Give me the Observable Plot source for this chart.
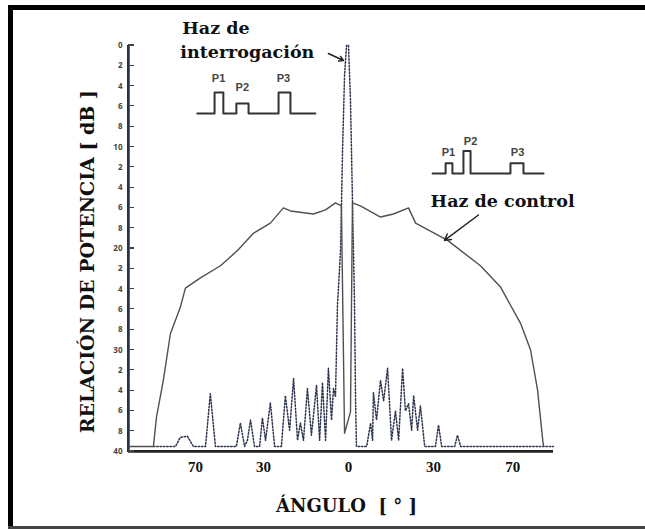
<!DOCTYPE html>
<html><head><meta charset="utf-8">
<script src="https://cdn.jsdelivr.net/npm/d3@7"></script>
<script src="https://cdn.jsdelivr.net/npm/@observablehq/plot@0.6"></script>
<style>
html,body{margin:0;background:#fff;overflow:hidden;}
#wrap{position:relative;width:645px;height:529px;overflow:hidden;background:#fff;}
#wrap svg{position:absolute;left:0;top:0;}
.bd{position:absolute;pointer-events:none;}
</style></head><body><div id="wrap"></div>
<script>
// Haz de control (solid) — angle [°], power ratio [dB]
const controlAngle = [-77.7, -68.9, -67.8, -65.4, -62.9, -59.4, -57.6, -52.3, -45.2, -39.2, -33.6, -27.6, -23.0, -20.5, -12.4, -8.1, -4.6, -2.5, -1.4, 0.7, 1.4, 4.2, 11.3, 15.9, 21.2, 23.7, 35.0, 46.6, 53.7, 60.8, 64.3, 66.8, 68.6, 68.9];
const controlDb    = [39.5, 39.5, 36.6, 33.0, 28.4, 25.8, 23.9, 22.9, 21.7, 20.2, 18.5, 17.5, 16.0, 16.3, 16.6, 16.2, 15.5, 15.8, 38.2, 36.1, 15.5, 15.8, 16.9, 16.6, 16.0, 17.5, 19.2, 21.7, 23.8, 27.4, 30.0, 34.0, 38.9, 39.5];

// Haz de interrogación (dotted)
const interrAngle = [-68.9, -61.1, -59.4, -56.9, -54.8, -50.5, -48.8, -47.0, -39.6, -38.2, -36.7, -35.7, -34.6, -33.2, -31.4, -30.4, -29.3, -27.6, -26.1, -23.7, -22.3, -20.8, -19.4, -18.0, -17.0, -15.9, -14.5, -13.1, -11.3, -10.2, -9.2, -8.1, -7.1, -6.0, -5.3, -4.6, -3.9, -2.8, -2.1, -1.4, -0.7, 0, 0.7, 1.4, 2.1, 2.5, 2.8, 6.4, 7.8, 8.5, 8.8, 9.9, 11.3, 12.4, 13.8, 15.2, 16.6, 17.7, 19.1, 20.1, 21.2, 22.3, 23.0, 24.4, 25.4, 26.9, 30.7, 31.8, 32.9, 37.5, 38.5, 39.6, 72.4];
const interrDb    = [39.5, 39.5, 38.6, 38.5, 39.5, 39.5, 34.3, 39.5, 39.5, 37.2, 39.5, 38.9, 36.9, 39.5, 39.5, 36.7, 38.9, 35.2, 39.5, 39.5, 34.5, 37.9, 32.8, 38.9, 37.2, 38.9, 33.8, 38.4, 33.5, 38.9, 33.2, 38.9, 31.8, 36.9, 33.8, 34.6, 25.6, 20.2, 10.3, 3.0, 0, 0, 5.4, 15.3, 25.1, 35.0, 39.5, 39.5, 37.2, 38.9, 34.2, 36.9, 33.0, 35.0, 31.8, 38.9, 36.0, 38.9, 31.8, 36.0, 35.3, 37.9, 34.5, 37.9, 35.5, 39.5, 39.5, 37.4, 39.5, 39.5, 38.4, 39.5, 39.5];

// Pulse sketches (P1 P2 P3)
const pulseIntAngle = [-53.4, -47.3, -47.3, -44.2, -44.2, -39.6, -39.6, -35.3, -35.3, -24.7, -24.7, -20.5, -20.5, -11.7];
const pulseIntDb    = [6.7, 6.7, 4.63, 4.63, 6.7, 6.7, 5.71, 5.71, 6.7, 6.7, 4.63, 4.63, 6.7, 6.7];
const pulseCtlAngle = [29.7, 34.3, 34.3, 36.7, 36.7, 40.6, 40.6, 43.1, 43.1, 57.2, 57.2, 61.8, 61.8, 68.9];
const pulseCtlDb    = [12.6, 12.6, 11.6, 11.6, 12.6, 12.6, 10.4, 10.4, 12.6, 12.6, 11.6, 11.6, 12.6, 12.6];
const pulseNames = ["P1", "P2", "P3"];
const pulseIntLabelAngle = [-45.9, -37.5, -23.0];
const pulseIntLabelDb = [3.25, 4.14, 3.25];
const pulseCtlLabelAngle = [35.3, 43.1, 59.7];
const pulseCtlLabelDb = [10.5, 9.46, 10.5];

// Ticks
const xTicks = [-54, -30, 0, 30, 58];
const xTickLabels = ["70", "30", "0", "30", "70"];
const yTicks = [0, 2, 4, 6, 8, 10, 12, 14, 16, 18, 20, 22, 24, 26, 28, 30, 32, 34, 36, 38, 40];
const yTickLabels = ["0", "2", "4", "6", "8", "10", "2", "4", "6", "8", "20", "2", "4", "6", "8", "30", "2", "4", "6", "8", "40"];

const xTitle = "ÁNGULO  [ ° ]";
const yTitle = "RELACIÓN DE POTENCIA [ dB ]";
const serif = "'DejaVu Serif', serif";

const control = controlAngle.map((a, i) => ({a, db: controlDb[i]}));
const interr = interrAngle.map((a, i) => ({a, db: interrDb[i]}));
const pInt = pulseIntAngle.map((a, i) => ({a, db: pulseIntDb[i]}));
const pCtl = pulseCtlAngle.map((a, i) => ({a, db: pulseCtlDb[i]}));
const pIntLab = pulseNames.map((t, i) => ({t, a: pulseIntLabelAngle[i], db: pulseIntLabelDb[i]}));
const pCtlLab = pulseNames.map((t, i) => ({t, a: pulseCtlLabelAngle[i], db: pulseCtlLabelDb[i]}));

const xMin = -77.7, xMax = 72.4;

const chart = Plot.plot({
  width: 645, height: 529,
  marginLeft: 128, marginRight: 92, marginTop: 45, marginBottom: 78,
  style: {background: "transparent", overflow: "visible"},
  x: {domain: [xMin, xMax], label: null},
  y: {domain: [0, 40], reverse: true, label: null},
  marks: [
    Plot.ruleX([xMin], {stroke: "#283050", strokeWidth: 2.5}),
    Plot.ruleY([40], {stroke: "#222", strokeWidth: 2.5}),
    Plot.line(interr, {x: "a", y: "db", stroke: "#2f3550", strokeWidth: 1.5, strokeDasharray: "1.5,1.8"}),
    Plot.line(control, {x: "a", y: "db", stroke: "#505050", strokeWidth: 1.4}),
    Plot.line(pInt, {x: "a", y: "db", stroke: "#333", strokeWidth: 2}),
    Plot.line(pCtl, {x: "a", y: "db", stroke: "#333", strokeWidth: 2}),
    Plot.text(pIntLab, {x: "a", y: "db", text: "t", fontSize: 11, fontWeight: "bold", fontFamily: "'Liberation Sans', sans-serif", fill: "#444"}),
    Plot.text(pCtlLab, {x: "a", y: "db", text: "t", fontSize: 11, fontWeight: "bold", fontFamily: "'Liberation Sans', sans-serif", fill: "#444"}),
    Plot.text(["Haz de"], {x: -58.7, y: -1.18, text: d => d, textAnchor: "start", lineAnchor: "bottom", fontSize: 17.5, fontWeight: "bold", fontFamily: serif, fill: "#111"}),
    Plot.text(["interrogación"], {x: -59.4, y: 1.25, text: d => d, textAnchor: "start", lineAnchor: "bottom", fontSize: 17.5, fontWeight: "bold", fontFamily: serif, fill: "#111"}),
    Plot.text(["Haz de control"], {x: 29.0, y: 15.9, text: d => d, textAnchor: "start", lineAnchor: "bottom", fontSize: 17.5, fontWeight: "bold", fontFamily: serif, fill: "#111"}),
    Plot.arrow([0], {x1: 45.9, y1: 16.7, x2: 33.9, y2: 19.2, stroke: "#222", strokeWidth: 1.5, headLength: 7}),
    Plot.arrow([0], {x1: -7.1, y1: 0.79, x2: -1.8, y2: 1.48, stroke: "#222", strokeWidth: 1.5, headLength: 5}),
    Plot.text([yTitle], {x: xMin, y: 21.3, dx: -41, rotate: -90, text: d => d, fontSize: 19, fontWeight: "bold", fontFamily: serif, fill: "#111"}),
    Plot.text([xTitle], {x: -0.7, y: 40, dy: 60, lineAnchor: "bottom", text: d => d, fontSize: 18, fontWeight: "bold", fontFamily: serif, fill: "#111"}),
    Plot.axisY(yTicks, {anchor: "left", tickSize: 0, tickPadding: 6, fontSize: 8, fontWeight: "bold", fill: "#444", tickFormat: d => yTickLabels[yTicks.indexOf(d)]}),
    Plot.axisX(xTicks, {anchor: "bottom", tickSize: 0, tickPadding: 10, fontSize: 15, fontWeight: "bold", fontFamily: "'Liberation Serif', serif", fill: "#111", tickFormat: d => xTickLabels[xTicks.indexOf(d)]})
  ]
});
const wrap = document.getElementById("wrap");
wrap.appendChild(chart);

// Axis lines and inward y tick marks, positioned with the chart's own scales
const xs = chart.scale("x"), ys = chart.scale("y");
const sx = xs && xs.apply ? v => xs.apply(v) : d3.scaleLinear([xMin, xMax], [128, 553]);
const sy = ys && ys.apply ? v => ys.apply(v) : d3.scaleLinear([0, 40], [45, 451]);
function addBox(left, top, w, h, color) {
  const d = document.createElement("div");
  d.className = "bd";
  d.style.left = left + "px"; d.style.top = top + "px";
  d.style.width = w + "px"; d.style.height = h + "px";
  d.style.background = color;
  wrap.appendChild(d);
}
const ax = sx(xMin), ay0 = sy(0), ay1 = sy(40), axR = sx(xMax);
addBox(ax - 1.25, ay0, 2.5, ay1 - ay0 + 1.25, "#283050");   // y axis line
addBox(ax - 1.25, ay1 - 1.25, axR - ax + 1.25, 2.5, "#222"); // x axis line
yTicks.forEach(t => addBox(ax, sy(t) - 0.6, 6, 1.2, "#444")); // y ticks

// page frame: thick black lines on left and top, thin grey line at bottom
addBox(8, 5, 5, 524, "#000");
addBox(8, 5, 637, 5, "#000");
addBox(8, 526, 637, 3, "#444");
</script>
</body></html>
